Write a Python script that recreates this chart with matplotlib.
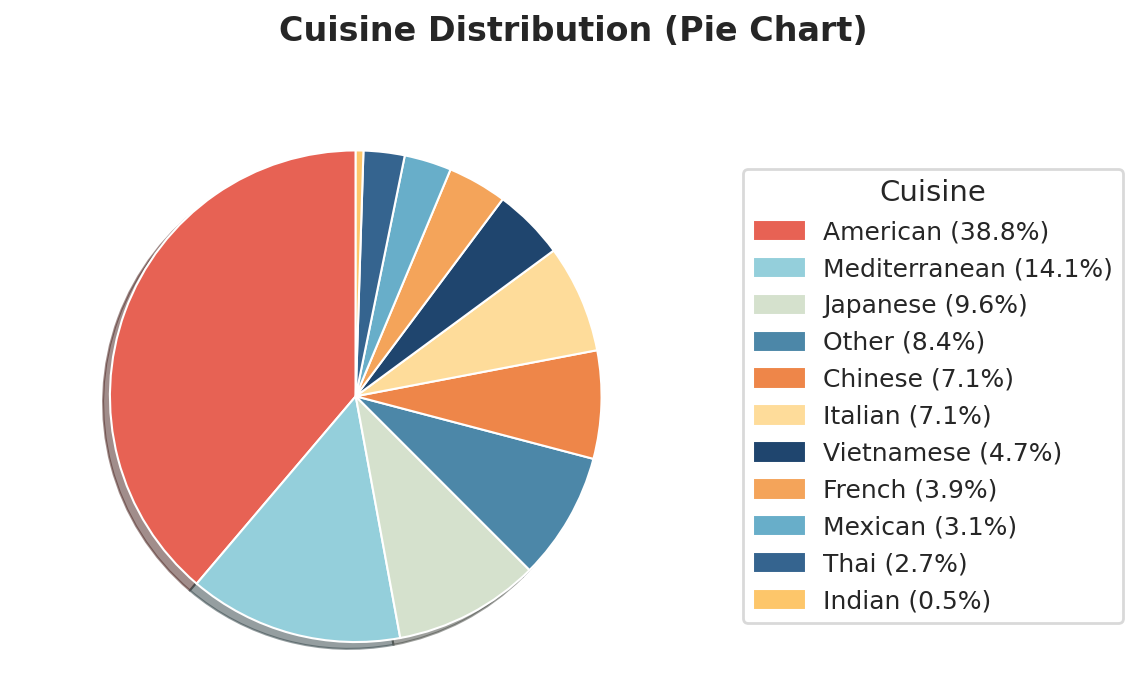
import matplotlib
matplotlib.use('Agg')
import matplotlib.pyplot as plt
import seaborn as sns

sns.set_style('whitegrid')
plt.rcParams['font.family'] = ['DejaVu Sans']

cuisines = ['American', 'Mediterranean', 'Japanese', 'Other', 'Chinese', 'Italian',
            'Vietnamese', 'French', 'Mexican', 'Thai', 'Indian']
shares = [38.8, 14.1, 9.6, 8.4, 7.1, 7.1, 4.7, 3.9, 3.1, 2.7, 0.5]
colors = ['#e76254', '#94cfdb', '#d5e1cd', '#4c87a8', '#ee8649', '#fedc9a',
          '#1f456e', '#f4a45a', '#68aec9', '#35648f', '#fdc66a']

fig = plt.figure(figsize=(11.38, 6.82), dpi=100)
ax = fig.add_axes([0.0426, -0.032, 0.540, 0.902])

wedges, _ = ax.pie(shares, colors=colors, startangle=90, shadow=True,
                   wedgeprops=dict(edgecolor='white', linewidth=1.5))
ax.set_aspect('equal')

labels = [f'{c} ({s:.1f}%)' for c, s in zip(cuisines, shares)]
leg = fig.legend(wedges, labels, title='Cuisine', loc='center left',
                 bbox_to_anchor=(0.642, 0.419), fontsize=18, title_fontsize=21,
                 frameon=True, handlelength=2.1, handleheight=0.95,
                 handletextpad=0.7)
leg.get_frame().set_edgecolor('#d0d0d0')
leg.get_frame().set_linewidth(2)

fig.suptitle('Cuisine Distribution (Pie Chart)', fontsize=24, fontweight='bold',
             x=0.504, y=0.978, color='#262626')

plt.savefig('out.png', dpi=100)
plt.close()
